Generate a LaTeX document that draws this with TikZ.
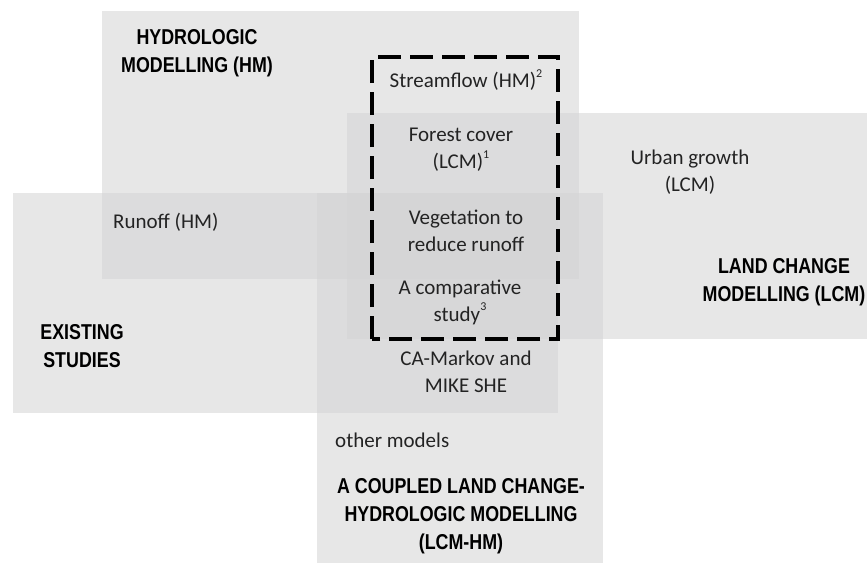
\documentclass[tikz,border=0pt]{standalone}
\usepackage{fontspec}
\setmainfont{Carlito}
\newfontfamily\headfont{Liberation Sans}[FakeStretch=0.83]
\newcommand{\noteref}[1]{\raisebox{0.5em}{\fontsize{12}{12}\selectfont #1}}
\begin{document}
\begin{tikzpicture}[x=1pt,y=-1pt,
  area/.style={fill={rgb,255:red,211;green,211;blue,212}, fill opacity=0.55, draw=none},
  topic/.style={font=\fontsize{21}{27}\selectfont, text={rgb,255:red,35;green,35;blue,35}, align=center, inner sep=0pt},
  heading/.style={font=\headfont\bfseries\fontsize{21.5}{28}\selectfont, text=black, align=center, inner sep=0pt},
  scopebox/.style={draw=black, line width=3.5pt, dash pattern=on 23pt off 9pt}]
\useasboundingbox (0,0) rectangle (867,563);

% overlapping fields of study
\fill[area] (102,11) rectangle (579,279);   % hydrologic modelling
\fill[area] (347,113) rectangle (867,339);  % land change modelling
\fill[area] (13,193) rectangle (558,413);   % existing studies
\fill[area] (317,193) rectangle (603,563);  % coupled modelling

% headings
\node[heading] (hm) at (197,53) {HYDROLOGIC\\MODELLING (HM)};
\node[heading] (lcm) at (784,282) {LAND CHANGE\\MODELLING (LCM)};
\node[heading] (ex) at (82,346) {EXISTING\\STUDIES};
\node[heading] (cpl) at (461,516) {A COUPLED LAND CHANGE-\\HYDROLOGIC MODELLING\\(LCM-HM)};

% topics
\node[topic] (stream) at (466,80) {Streamflow (HM)\noteref{2}};
\node[topic] (forest) at (461,150) {Forest cover\\(LCM)\noteref{1}};
\node[topic] (veg) at (466,231) {Vegetation to\\reduce runoff};
\node[topic] (comp) at (460,302) {A comparative\\study\noteref{3}};
\node[topic] (camk) at (466,372) {CA-Markov and\\MIKE SHE};
\node[topic, anchor=west] (other) at (335,440) {other models};
\node[topic, anchor=west] (runoff) at (113,222) {Runoff (HM)};
\node[topic] (urban) at (690,172) {Urban growth\\(LCM)};

% dashed frame around the focus of this study
\draw[scopebox] (372,339) -- (372,57) -- (558,57) -- (558,339) -- cycle;
\end{tikzpicture}
\end{document}
